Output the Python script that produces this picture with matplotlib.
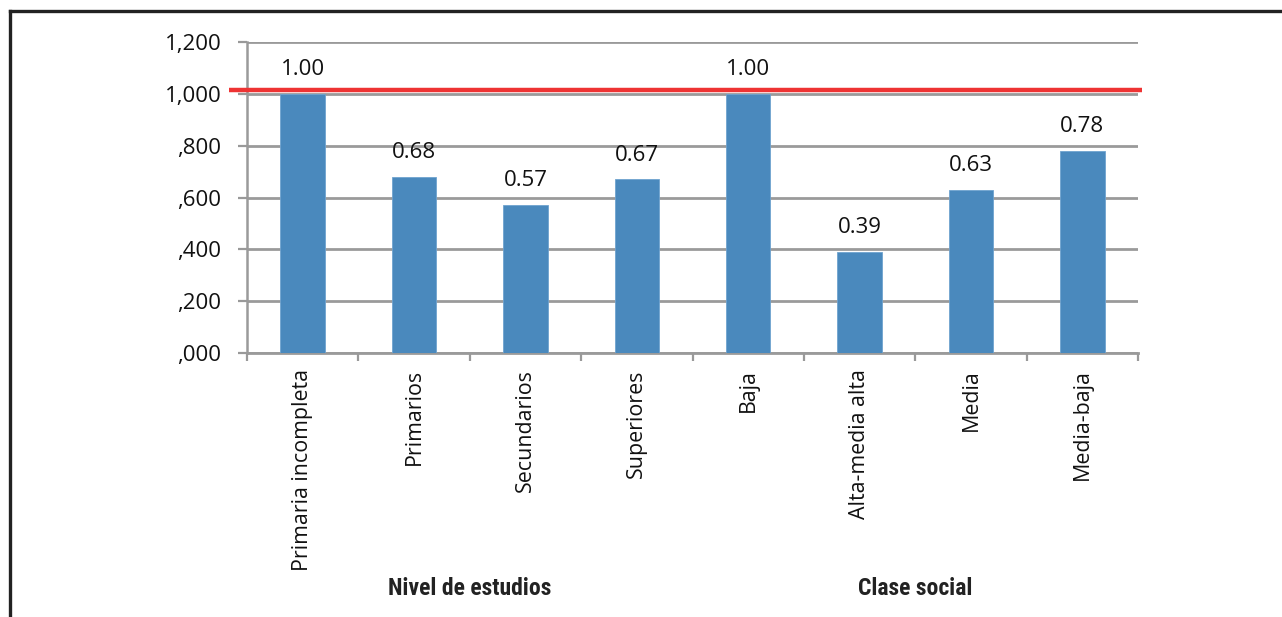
import matplotlib
matplotlib.use("Agg")
import matplotlib.pyplot as plt
from matplotlib.lines import Line2D
from matplotlib.ticker import FixedLocator, FixedFormatter

categories = ["Primaria incompleta", "Primarios", "Secundarios", "Superiores",
              "Baja", "Alta-media alta", "Media", "Media-baja"]
values = [1.00, 0.68, 0.57, 0.67, 1.00, 0.39, 0.63, 0.78]
value_labels = ["1.00", "0.68", "0.57", "0.67", "1.00", "0.39", "0.63", "0.78"]
groups = ["Nivel de estudios", "Clase social"]
group_centers = [1.5, 5.5]
reference_level = 1.015
y_ticks = [0.0, 0.2, 0.4, 0.6, 0.8, 1.0, 1.2]
y_tick_labels = [",000", ",200", ",400", ",600", ",800", "1,000", "1,200"]

plt.rcParams["font.family"] = ["Open Sans", "DejaVu Sans"]

fig = plt.figure(figsize=(12.82, 6.17), dpi=100)
fig.patch.set_facecolor("white")
ax = fig.add_axes([247 / 1282, 0.4284, 891 / 1282, 0.503])

x = list(range(len(categories)))
ax.bar(x, values, width=0.40, color="#4A89BD", edgecolor="#6FA3CF",
       linewidth=0.6, zorder=3)

for xi, v, lab in zip(x, values, value_labels):
    ax.annotate(lab, (xi, v), xytext=(0, 10), textcoords="offset points",
                ha="center", va="bottom", fontsize=16, color="#111111")

ax.set_xlim(-0.5, len(categories) - 0.5)
ax.set_ylim(0, 1.2)

ax.yaxis.set_major_locator(FixedLocator(y_ticks))
ax.yaxis.set_major_formatter(FixedFormatter(y_tick_labels))
ax.tick_params(axis="y", length=6.5, width=1.6, color="#999999",
               labelsize=16, labelcolor="#111111", pad=12)

ax.set_xticks(x)
ax.set_xticklabels(categories, rotation=90, fontsize=15.4, color="#111111")
ax.tick_params(axis="x", which="major", length=0, pad=12)
ax.set_xticks([i - 0.5 for i in range(len(categories) + 1)], minor=True)
ax.tick_params(axis="x", which="minor", length=6, width=1.6, color="#999999")

ax.grid(axis="y", color="#9A9A9A", linewidth=2, zorder=0)
ax.set_axisbelow(True)
for side in ["top", "right"]:
    ax.spines[side].set_visible(False)
ax.spines["left"].set_color("#9A9A9A")
ax.spines["left"].set_linewidth(1.8)
ax.spines["bottom"].set_color("#9A9A9A")
ax.spines["bottom"].set_linewidth(2)

ax.hlines(reference_level, -0.66, len(categories) - 0.46, color="#EE3333",
          linewidth=3.2, zorder=5, clip_on=False)

for name, gx in zip(groups, group_centers):
    ax.text(gx, -0.912, name, ha="center", va="center", fontsize=17,
            fontweight="bold", fontstretch="condensed", color="#222222",
            family=["Liberation Sans Narrow", "Roboto Condensed", "DejaVu Sans"],
            transform=ax.transData, clip_on=False)

# Frame lines along the top and left edges of the figure
fig.add_artist(Line2D([10 / 1282, 1.0], [1 - 11 / 617, 1 - 11 / 617],
                      transform=fig.transFigure, color="#222222", linewidth=2.4))
fig.add_artist(Line2D([10 / 1282, 10 / 1282], [1 - 11 / 617, 0.0],
                      transform=fig.transFigure, color="#222222", linewidth=2.4))

fig.savefig("out.png", dpi=100, facecolor="white")
